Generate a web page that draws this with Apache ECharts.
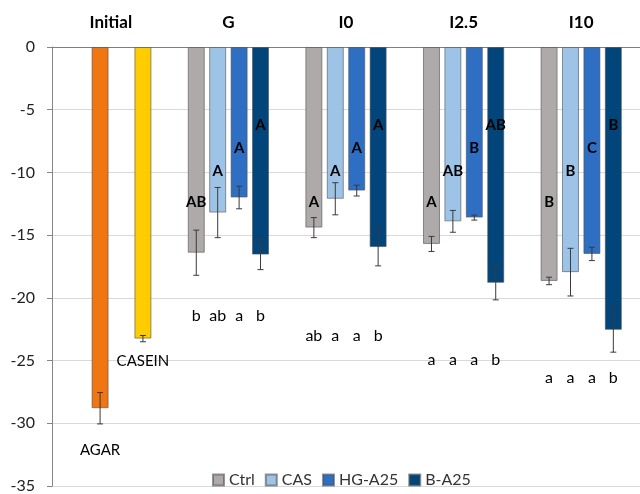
<!DOCTYPE html>
<html>
<head>
<meta charset="utf-8">
<script src="https://cdn.jsdelivr.net/npm/echarts@6/dist/echarts.min.js"></script>
<style>html,body{margin:0;padding:0;background:#fff;}#c{width:640px;height:494px;}</style>
</head>
<body>
<div id="c"></div>
<script>
// ---- data ----
const categories = ['Initial', 'G', 'I0', 'I2.5', 'I10'];
const seriesNames = ['Ctrl', 'CAS', 'HG-A25', 'B-A25'];
const initialNames = ['AGAR', 'CASEIN'];
const initialMean = [-28.8, -23.25];
const initialSD = [1.25, 0.25];
// values for G, I0, I2.5, I10
const ctrlMean = [-16.4, -14.4, -15.7, -18.65];
const ctrlSD = [1.8, 0.8, 0.6, 0.3];
const casMean = [-13.2, -12.1, -13.9, -17.95];
const casSD = [2.0, 1.28, 0.87, 1.9];
const hgMean = [-12.0, -11.45, -13.6, -16.5];
const hgSD = [0.9, 0.43, 0.2, 0.53];
const bMean = [-16.55, -15.95, -18.8, -22.55];
const bSD = [1.2, 1.5, 1.36, 1.78];
// upper-case letters (per series, for G, I0, I2.5, I10)
const ctrlUpper = ['AB', 'A', 'A', 'B'];
const casUpper = ['A', 'A', 'AB', 'B'];
const hgUpper = ['A', 'A', 'B', 'C'];
const bUpper = ['A', 'A', 'AB', 'B'];
// lower-case letters (per group: Ctrl, CAS, HG-A25, B-A25)
const lowerG = ['b', 'ab', 'a', 'b'];
const lowerI0 = ['ab', 'a', 'a', 'b'];
const lowerI25 = ['a', 'a', 'a', 'b'];
const lowerI10 = ['a', 'a', 'a', 'b'];

// ---- layout / style ----
const FONT = 'Lato, "Open Sans", sans-serif';
const colors = ['#AEAAAA', '#9DC3E6', '#2E6FC4', '#01457A'];
const initialColors = ['#F07613', '#FFCC00'];
const initialSlot = [1, 3];            // series slot used by AGAR / CASEIN
const initialLabelOffset = [403, 314]; // px below bar top
const upperLabelOffset = [155, 124, 101, 78]; // px below bar top, per series
const lowerLabelY = [null, -21.4, -23.05, -24.95, -26.4]; // axis value per category
const BW = 17, GAPR = 0.26;

const means = [ctrlMean, casMean, hgMean, bMean];
const sds = [ctrlSD, casSD, hgSD, bSD];
const uppers = [ctrlUpper, casUpper, hgUpper, bUpper];
const lowers = [lowerG, lowerI0, lowerI25, lowerI10];

const barSeries = seriesNames.map((name, s) => {
  const data = ['-'];
  const ii = initialSlot.indexOf(s);
  if (ii >= 0) {
    data[0] = {
      value: initialMean[ii],
      itemStyle: { color: initialColors[ii] },
      label: { position: ['50%', initialLabelOffset[ii]], fontWeight: 'normal', fontSize: 15 }
    };
  }
  means[s].forEach(v => data.push(v));
  return {
    name: name,
    type: 'bar',
    data: data,
    barWidth: BW,
    barGap: (GAPR * 100) + '%',
    itemStyle: { color: colors[s], borderColor: 'rgba(80,80,80,0.6)', borderWidth: 1 },
    label: {
      show: true,
      position: ['50%', upperLabelOffset[s]],
      align: 'center',
      verticalAlign: 'middle',
      fontFamily: FONT,
      fontSize: 15,
      fontWeight: 'bold',
      color: '#000',
      formatter: p => p.dataIndex === 0 ? initialNames[initialSlot.indexOf(s)] : uppers[s][p.dataIndex - 1]
    },
    z: 2
  };
});

const errData = [];
const errLetters = [];
initialSlot.forEach((s, i) => { errData.push([0, s, initialMean[i], initialSD[i]]); errLetters.push(''); });
for (let g = 0; g < 4; g++) {
  for (let s = 0; s < 4; s++) {
    errData.push([g + 1, s, means[s][g], sds[s][g]]);
    errLetters.push(lowers[g][s]);
  }
}

const errSeries = {
  type: 'custom',
  coordinateSystem: 'cartesian2d',
  encode: { x: 0, y: 2 },
  data: errData,
  z: 5,
  silent: true,
  renderItem: function (params, api) {
    const cat = api.value(0), s = api.value(1), m = api.value(2), sd = api.value(3);
    const cx = api.coord([cat, m])[0] + (s - 1.5) * BW * (1 + GAPR);
    const yt = api.coord([cat, m + sd])[1];
    const yb = api.coord([cat, m - sd])[1];
    const st = { stroke: '#3a3a3a', lineWidth: 1 };
    const ch = [
      { type: 'line', shape: { x1: cx, y1: yt, x2: cx, y2: yb }, style: st },
      { type: 'line', shape: { x1: cx - 3, y1: yt, x2: cx + 3, y2: yt }, style: st },
      { type: 'line', shape: { x1: cx - 3, y1: yb, x2: cx + 3, y2: yb }, style: st }
    ];
    const letter = errLetters[params.dataIndex];
    if (letter) {
      const ly = api.coord([cat, lowerLabelY[cat]])[1];
      ch.push({ type: 'text', style: { text: letter, x: cx, y: ly, align: 'center', verticalAlign: 'middle', fontFamily: FONT, fontSize: 16, fill: '#000' } });
    }
    return { type: 'group', children: ch };
  }
};

const chart = echarts.init(document.getElementById('c'), null, { renderer: 'canvas' });
chart.setOption({
  animation: false,
  backgroundColor: '#fff',
  grid: { left: 52, top: 47, width: 592, height: 446, containLabel: false },
  legend: {
    data: seriesNames,
    top: 467,
    left: 207,
    itemWidth: 11,
    itemHeight: 11,
    itemGap: 10,
    icon: 'rect',
    textStyle: { fontFamily: FONT, fontSize: 16, color: '#333' }
  },
  xAxis: {
    type: 'category',
    data: categories,
    position: 'top',
    axisLine: { show: true, lineStyle: { color: '#7f7f7f', width: 1 } },
    axisTick: { show: false },
    axisLabel: { fontFamily: FONT, fontSize: 17, fontWeight: 'bold', color: '#000', margin: 16 },
    splitLine: { show: false }
  },
  yAxis: {
    type: 'value',
    min: -35,
    max: 0,
    interval: 5,
    axisLine: { show: true, lineStyle: { color: '#868686' } },
    axisTick: { show: true, length: 5, lineStyle: { color: '#868686' } },
    axisLabel: { fontFamily: FONT, fontSize: 16, color: '#222', margin: 17 },
    splitLine: { lineStyle: { color: '#d9d9d9', width: 1 } }
  },
  series: barSeries.concat([errSeries])
});
</script>
</body>
</html>
